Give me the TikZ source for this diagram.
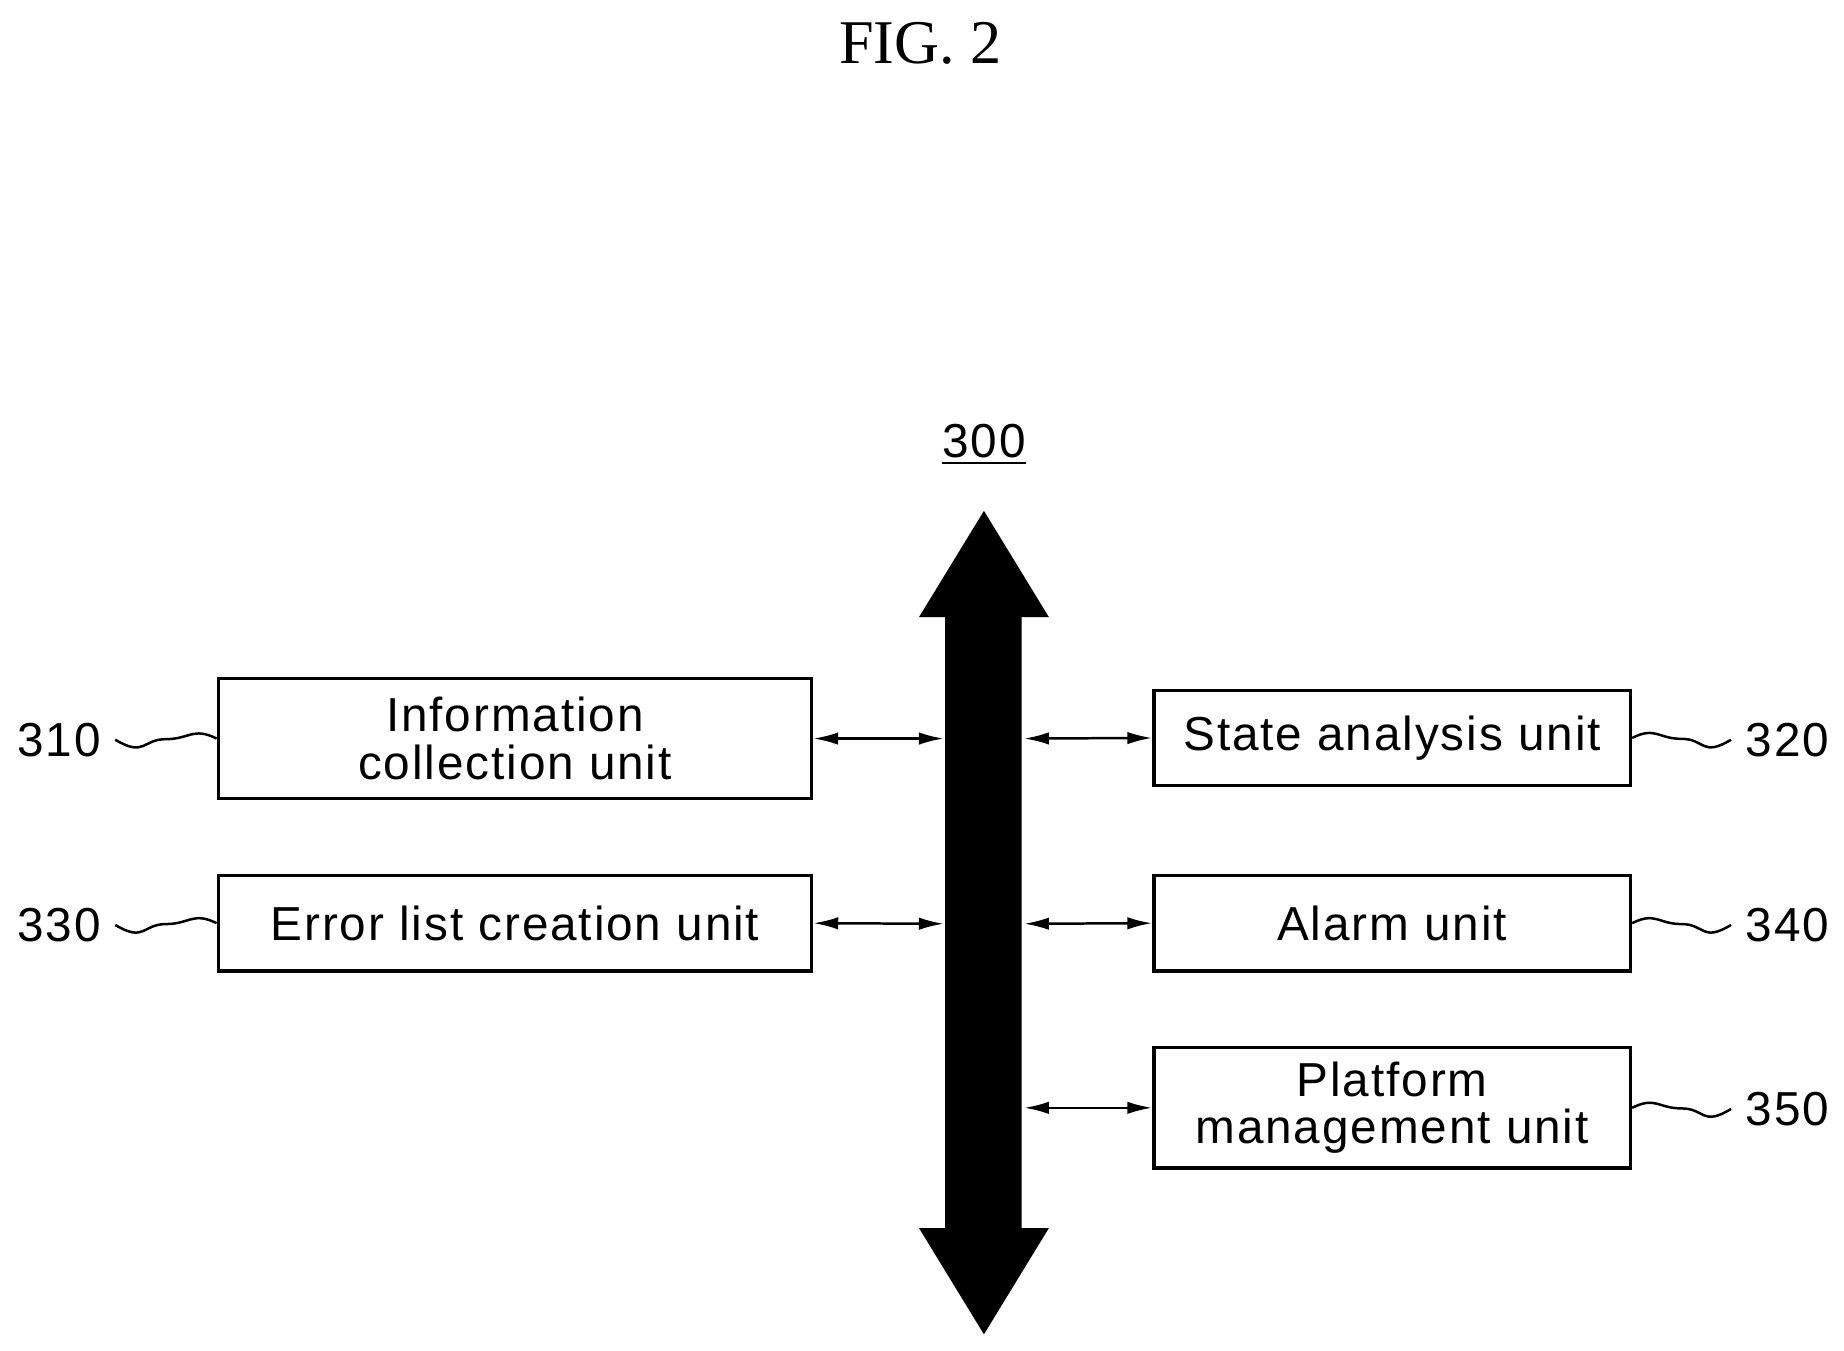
\documentclass[tikz,border=0pt]{standalone}
\usepackage{fontspec}
\setmainfont{Liberation Sans}[LetterSpace=4]
\newfontfamily\serifx{Liberation Serif}
\usetikzlibrary{arrows.meta,calc}
\begin{document}
\begin{tikzpicture}[x=0.1mm,y=-0.1mm,
 box/.style={draw,line width=0.8pt,inner sep=0pt,align=center,font=\fontsize{11.5}{11.5}\selectfont},
 lbl/.style={font=\fontsize{11.5}{12}\selectfont},
 link/.style={line width=0.6pt,{Latex[length=6pt,width=3pt]}-{Latex[length=6pt,width=3pt]}},
 wave/.style={line width=0.6pt}]
\useasboundingbox (0,0) rectangle (1563,1145);
\node[font=\serifx\fontsize{15}{15}\selectfont] (fig) at (780,37) {FIG. 2};
\node[lbl] (t300) at (834,377) {\underline{300}};
\fill (834,433) -- (889,523) -- (866,523) -- (866,1041) -- (889,1041) -- (834,1131) -- (779,1041) -- (801,1041) -- (801,523) -- (779,523) -- cycle;
\coordinate (busL1) at (800,626); \coordinate (busR1) at (868,626);
\coordinate (busL2) at (800,783); \coordinate (busR2) at (868,783);
\coordinate (busR3) at (868,939);
\node[box,minimum width=50.3mm,minimum height=10.2mm] (b310) at (436.5,626) {Information\\collection unit};
\node[box,minimum width=50.3mm,minimum height=8.1mm] (b330) at (436.5,782.5) {Error list creation unit};
\node[box,minimum width=40.4mm,minimum height=8.1mm] (b320) at (1180,625.5) {State analysis unit};
\node[box,minimum width=40.4mm,minimum height=8.1mm] (b340) at (1180,782.5) {Alarm unit};
\node[box,minimum width=40.4mm,minimum height=10.2mm] (b350) at (1180,939) {Platform\\management unit};
\draw[link] (b310.east) -- (busL1);
\draw[link] (b330.east) -- (busL2);
\draw[link] (busR1) -- (b320.west);
\draw[link] (busR2) -- (b340.west);
\draw[link] (busR3) -- (b350.west);
\node[lbl] (n310) at (50,627) {310};
\node[lbl] (n330) at (50,784) {330};
\node[lbl] (n320) at (1515,627) {320};
\node[lbl] (n340) at (1515,784) {340};
\node[lbl] (n350) at (1515,940) {350};
\foreach \n/\b in {n310/b310,n330/b330}{
 \draw[wave] (\n.east) .. controls +(25,15) and +(-20,0) .. ($(\n.east)!0.5!(\b.west)$) .. controls +(20,0) and +(-20,-10) .. (\b.west);}
\foreach \n/\b in {n320/b320,n340/b340,n350/b350}{
 \draw[wave] (\b.east) .. controls +(20,-10) and +(-20,0) .. ($(\b.east)!0.5!(\n.west)$) .. controls +(20,0) and +(-25,15) .. (\n.west);}
\end{tikzpicture}
\end{document}
